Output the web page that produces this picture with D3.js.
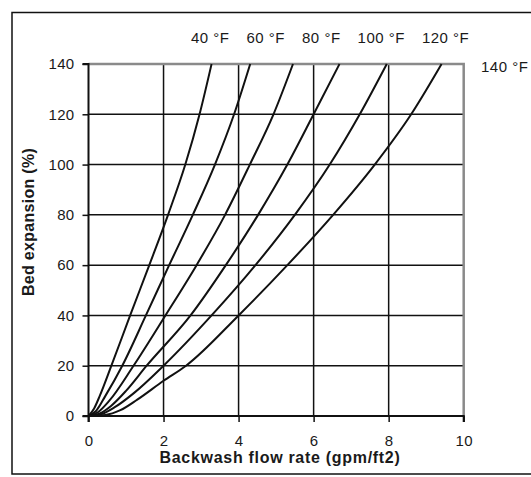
<!DOCTYPE html>
<html>
<head>
<meta charset="utf-8">
<script src="https://cdn.jsdelivr.net/npm/d3@7"></script>
<style>
  html, body { margin: 0; padding: 0; background: #fff; }
  svg { display: block; }
  text { font-family: "Liberation Sans", Arial, sans-serif; fill: #1a1a1a; }
</style>
</head>
<body>
<svg id="chart" width="531" height="477"></svg>
<script>
// ---- data ----
const seriesNames = ["40 °F", "60 °F", "80 °F", "100 °F", "120 °F", "140 °F"];
// each series: [flow rate (gpm/ft2), bed expansion (%)]
const t40  = [[0,0],[0.15,3],[0.3,8],[0.61,20],[1.11,40],[1.62,60],[2.12,80],[2.58,100],[2.96,120],[3.28,140]];
const t60  = [[0,0],[0.2,2],[0.45,8],[0.9,20],[1.53,40],[2.15,60],[2.78,80],[3.37,100],[3.88,120],[4.31,140]];
const t80  = [[0,0],[0.25,1.5],[0.55,6],[1.2,20],[2.05,40],[2.88,60],[3.64,80],[4.3,100],[4.93,120],[5.45,140]];
const t100 = [[0,0],[0.3,1],[0.6,4],[1.0,10],[1.55,20],[2.72,40],[3.66,60],[4.52,80],[5.3,100],[6.0,120],[6.69,140]];
const t120 = [[0,0],[0.35,0.8],[0.7,3.5],[1.2,9],[2.0,20],[3.28,40],[4.45,60],[5.5,80],[6.43,100],[7.23,120],[7.95,140]];
const t140 = [[0,0],[0.45,0.4],[0.85,2.3],[1.3,6.5],[2.0,14],[2.6,20],[4.0,40],[5.3,60],[6.52,80],[7.63,100],[8.6,120],[9.41,140]];
const seriesData = [t40, t60, t80, t100, t120, t140];
const xTicks = [0, 2, 4, 6, 8, 10];
const yTicks = [0, 20, 40, 60, 80, 100, 120, 140];
const xTitle = "Backwash flow rate (gpm/ft2)";
const yTitle = "Bed expansion (%)";

// ---- layout ----
const svg = d3.select("#chart");
const L = 88.5, R = 463.7, T = 64, B = 416;
const x = d3.scaleLinear().domain([0, 10]).range([L, R]);
const y = d3.scaleLinear().domain([0, 140]).range([B, T]);

// outer frame
svg.append("rect")
  .attr("x", 12).attr("y", 12.5).attr("width", 560).attr("height", 461.5)
  .attr("fill", "none").attr("stroke", "#111").attr("stroke-width", 1.5);

// grid
const grid = svg.append("g");
grid.selectAll("line.h").data(yTicks.filter(v => v > 0 && v < 140)).join("line")
  .attr("x1", L).attr("x2", R).attr("y1", d => y(d)).attr("y2", d => y(d))
  .attr("stroke", "#111").attr("stroke-width", 1.5);
grid.selectAll("line.v").data(xTicks.filter(v => v > 0 && v < 10)).join("line")
  .attr("y1", T).attr("y2", B).attr("x1", d => x(d)).attr("x2", d => x(d))
  .attr("stroke", "#111").attr("stroke-width", 1.5);

// gray top/right border
svg.append("path")
  .attr("d", `M${L},${T}H${R}V${B}`)
  .attr("fill", "none").attr("stroke", "#8a8a8a").attr("stroke-width", 2.5);

// curves
const line = d3.line().x(d => x(d[0])).y(d => y(d[1])).curve(d3.curveMonotoneX);
svg.append("g").selectAll("path").data(seriesData).join("path")
  .attr("d", line).attr("fill", "none").attr("stroke", "#111")
  .attr("stroke-width", 2).attr("stroke-linejoin", "round");

// axes
const xAxis = d3.axisBottom(x).tickValues(xTicks).tickSize(6).tickPadding(13).tickFormat(d3.format("d"));
const yAxis = d3.axisLeft(y).tickValues(yTicks).tickSize(6).tickPadding(8).tickFormat(d3.format("d"));
const gx = svg.append("g").attr("transform", `translate(0,${B})`).call(xAxis);
const gy = svg.append("g").attr("transform", `translate(${L},0)`).call(yAxis);
[gx, gy].forEach(g => {
  g.select(".domain").attr("stroke", "#111").attr("stroke-width", 2);
  g.selectAll(".tick line").attr("stroke", "#111").attr("stroke-width", 1.5);
  g.selectAll(".tick text").attr("font-size", 15).attr("letter-spacing", 0.3)
    .attr("font-family", "Liberation Sans, Arial, sans-serif").attr("fill", "#222");
});
gy.select(".domain").attr("d", `M-6,${T}H0V${B}H-6`);
gx.select(".domain").attr("d", `M${L},6V0H${R}V6`);

// axis titles
svg.append("text")
  .attr("x", 280).attr("y", 463)
  .attr("text-anchor", "middle").attr("font-size", 16).attr("font-weight", "bold")
  .attr("letter-spacing", 0.7)
  .text(xTitle);
svg.append("text")
  .attr("transform", "translate(34,222) rotate(-90)")
  .attr("text-anchor", "middle").attr("font-size", 16).attr("font-weight", "bold")
  .attr("letter-spacing", 0.3)
  .text(yTitle);

// series labels: top row flows left-to-right, last one at right of plot top
const labG = svg.append("g");
let cx = 191;
seriesNames.slice(0, 5).forEach(name => {
  const t = labG.append("text").attr("x", cx).attr("y", 43)
    .attr("font-size", 15).attr("letter-spacing", 0.5).attr("fill", "#222").text(name);
  cx += t.node().getComputedTextLength() + 17;
});
labG.append("text").attr("x", 481).attr("y", 72)
  .attr("font-size", 15).attr("letter-spacing", 0.5).attr("fill", "#222").text(seriesNames[5]);
</script>
</body>
</html>
